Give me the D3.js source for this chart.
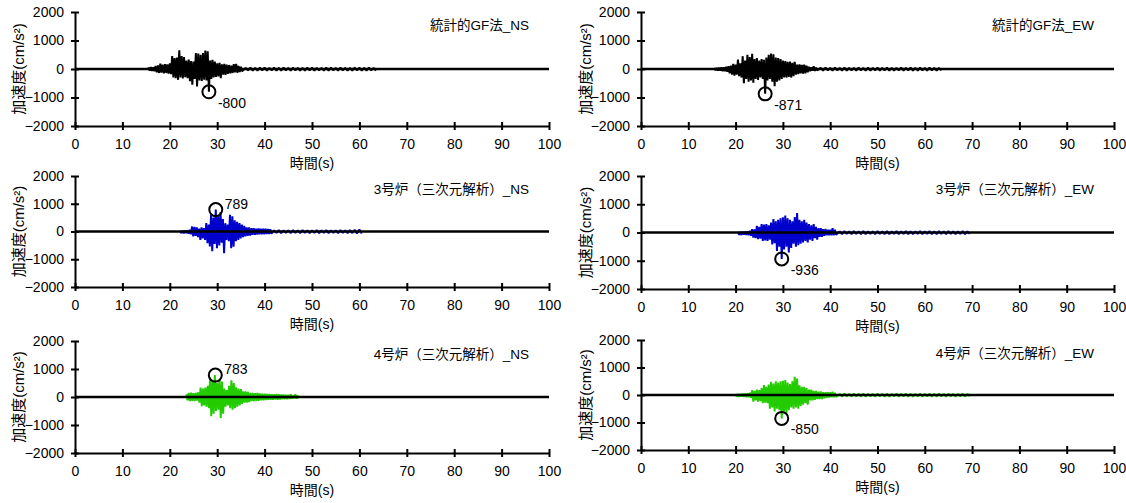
<!DOCTYPE html>
<html><head><meta charset="utf-8">
<script src="https://cdn.jsdelivr.net/npm/d3@7"></script>
<style>
body{margin:0;background:#fff}
svg text{font-family:"Liberation Sans","Noto Sans CJK JP",sans-serif;fill:#000}
</style>
</head><body>
<svg id="c" width="1126" height="503"></svg>
<script>
// ---------- data ----------
const xTicks = [0,10,20,30,40,50,60,70,80,90,100];
const yTicks = [2000,1000,0,-1000,-2000];
const titles = ["統計的GF法_NS","統計的GF法_EW","3号炉（三次元解析）_NS","3号炉（三次元解析）_EW","4号炉（三次元解析）_NS","4号炉（三次元解析）_EW"];
const xLabel = "時間(s)";
const yLabel = "加速度(cm/s²)";
const burstStep = 0.5;
const tailStep = 1;

// 統計的GF法_NS
const gfNS_t0 = 15.5;
const gfNS_pos = [60,70,60,110,130,190,150,170,160,200,450,380,400,660,450,420,300,330,280,260,560,540,500,560,650,620,300,320,260,200,220,160,180,150,140,120,170,180,110,80];
const gfNS_neg = [-60,-70,-80,-120,-140,-130,-150,-140,-160,-180,-300,-320,-380,-300,-330,-290,-320,-430,-550,-350,-610,-400,-420,-380,-400,-800,-350,-300,-280,-260,-320,-200,-210,-170,-150,-140,-120,-130,-110,-80];
const gfNS_tail0 = 36;
const gfNS_tailPos = [40,50,40,45,50,40,45,40,50,40,45,40,40,50,45,40,40,45,50,40,45,40,40,45,50,40,45,40];
const gfNS_tailNeg = [-50,-60,-55,-50,-60,-50,-55,-60,-50,-55,-50,-60,-55,-50,-60,-50,-55,-60,-50,-55,-50,-60,-55,-50,-60,-55,-50,-60];

// 統計的GF法_EW
const gfEW_t0 = 15.5;
const gfEW_pos = [40,40,50,60,60,80,100,120,180,150,330,200,450,300,500,420,530,350,380,300,350,320,400,500,540,520,400,380,350,300,280,250,260,220,250,150,160,140,150,120,80,60,100,50];
const gfEW_neg = [-50,-60,-60,-80,-80,-100,-150,-200,-230,-200,-250,-300,-500,-350,-450,-400,-480,-350,-380,-300,-350,-871,-400,-350,-450,-600,-450,-400,-350,-300,-300,-280,-300,-250,-200,-180,-150,-160,-150,-120,-80,-60,-70,-50];
const gfEW_tail0 = 38;
const gfEW_tailPos = [40,45,40,50,40,45,40,40,50,40,45,40,50,40,45,40,40,50,40,45,40,50,40,45,40,40];
const gfEW_tailNeg = [-55,-50,-60,-50,-55,-60,-50,-55,-50,-60,-55,-50,-60,-50,-55,-60,-50,-55,-50,-60,-55,-50,-60,-50,-55,-50];

// 3号炉_NS
const u3NS_t0 = 22.2;
const u3NS_pos = [20,30,30,40,60,180,170,150,100,150,120,300,250,600,500,789,550,700,450,300,250,600,550,400,350,300,250,200,150,150,120,120,100,110,100,100,100,90,80];
const u3NS_neg = [-60,-70,-60,-80,-100,-180,-160,-200,-300,-250,-300,-420,-540,-714,-450,-600,-500,-400,-780,-300,-350,-600,-550,-350,-300,-250,-200,-180,-160,-150,-120,-120,-110,-100,-100,-100,-90,-90,-80];
const u3NS_tail0 = 42;
const u3NS_tailPos = [40,45,40,40,50,40,45,40,40,50,40,45,40,40,50,40,45,60,70];
const u3NS_tailNeg = [-50,-55,-50,-60,-50,-55,-50,-60,-50,-55,-50,-60,-50,-55,-50,-60,-55,-70,-70];

// 3号炉_EW
const u3EW_t0 = 20.5;
const u3EW_pos = [20,20,30,30,40,60,120,110,240,200,300,280,300,250,350,480,400,450,500,540,600,500,450,400,550,690,450,400,450,350,300,250,300,200,150,150,120,130,100,100,150,100];
const u3EW_neg = [-80,-90,-80,-90,-100,-120,-180,-200,-240,-220,-300,-280,-300,-250,-420,-380,-650,-500,-936,-600,-500,-710,-550,-400,-500,-450,-400,-350,-300,-350,-250,-300,-200,-250,-150,-150,-120,-100,-100,-100,-100,-80];
const u3EW_tail0 = 42;
const u3EW_tailPos = [40,45,40,50,40,45,40,40,50,40,45,40,50,40,45,40,40,50,40,45,40,50,40,45,40,40,45,40];
const u3EW_tailNeg = [-55,-50,-60,-50,-55,-60,-50,-55,-50,-60,-55,-50,-60,-50,-55,-60,-50,-55,-50,-60,-55,-50,-60,-50,-55,-50,-60,-50];

// 4号炉_NS
const u4NS_t0 = 23.5;
const u4NS_pos = [100,150,160,140,150,170,340,300,340,400,700,600,783,500,640,550,300,250,400,600,500,350,300,280,200,200,180,150,150,140,150,130,120,120,110,110,100,100,110,100,90,90,80,80,100,60,100,50];
const u4NS_neg = [-120,-150,-140,-150,-130,-200,-330,-300,-350,-400,-690,-600,-500,-450,-750,-600,-350,-300,-400,-450,-400,-350,-300,-250,-200,-200,-180,-150,-150,-150,-140,-120,-120,-110,-100,-100,-100,-90,-100,-90,-80,-80,-80,-70,-60,-50,-60,-40];
const u4NS_tail0 = 48;
const u4NS_tailPos = [];
const u4NS_tailNeg = [];

// 4号炉_EW
const u4EW_t0 = 20;
const u4EW_pos = [30,40,40,50,50,60,80,180,150,200,180,250,360,300,380,480,420,500,450,500,520,540,450,400,500,660,600,350,300,300,250,200,200,150,150,120,130,100,100,100,100,120,80];
const u4EW_neg = [-60,-70,-60,-70,-80,-80,-100,-240,-200,-240,-220,-300,-280,-300,-500,-450,-600,-500,-550,-850,-600,-660,-550,-450,-500,-450,-500,-400,-350,-300,-350,-200,-200,-180,-150,-150,-150,-120,-100,-90,-80,-80,-70];
const u4EW_tail0 = 42;
const u4EW_tailPos = [40,45,40,50,40,45,40,40,50,40,45,40,50,40,45,40,40,50,40,45,40,50,40,45,40,40,45,40];
const u4EW_tailNeg = [-55,-50,-60,-50,-55,-60,-50,-55,-50,-60,-55,-50,-60,-50,-55,-60,-50,-55,-50,-60,-55,-50,-60,-50,-55,-50,-60,-50];

// peak annotations
const peakTimes  = [28.25, 26.25, 29.7, 29.75, 29.6, 29.75];
const peakValues = [-800, -871, 789, -936, 783, -850];
const peakLabels = ["-800","-871","789","-936","783","-850"];

// ---------- build ----------
const series = [
  {t0:gfNS_t0,pos:gfNS_pos,neg:gfNS_neg,tail0:gfNS_tail0,tp:gfNS_tailPos,tn:gfNS_tailNeg,color:"#000000"},
  {t0:gfEW_t0,pos:gfEW_pos,neg:gfEW_neg,tail0:gfEW_tail0,tp:gfEW_tailPos,tn:gfEW_tailNeg,color:"#000000"},
  {t0:u3NS_t0,pos:u3NS_pos,neg:u3NS_neg,tail0:u3NS_tail0,tp:u3NS_tailPos,tn:u3NS_tailNeg,color:"#0000CC"},
  {t0:u3EW_t0,pos:u3EW_pos,neg:u3EW_neg,tail0:u3EW_tail0,tp:u3EW_tailPos,tn:u3EW_tailNeg,color:"#0000CC"},
  {t0:u4NS_t0,pos:u4NS_pos,neg:u4NS_neg,tail0:u4NS_tail0,tp:u4NS_tailPos,tn:u4NS_tailNeg,color:"#22CC00"},
  {t0:u4EW_t0,pos:u4EW_pos,neg:u4EW_neg,tail0:u4EW_tail0,tp:u4EW_tailPos,tn:u4EW_tailNeg,color:"#22CC00"}
];

const layout = [
  {x0:75, x1:549, top:12, bottom:126, ylx:18},
  {x0:641,x1:1114,top:12, bottom:126, ylx:585},
  {x0:75, x1:549, top:176,bottom:287, ylx:18},
  {x0:641,x1:1114,top:176,bottom:289, ylx:585},
  {x0:75, x1:549, top:341,bottom:453, ylx:18},
  {x0:641,x1:1114,top:340,bottom:450, ylx:585}
];

const svg = d3.select("#c");

series.forEach((s,i)=>{
  const L = layout[i];
  const x = d3.scaleLinear().domain([0,100]).range([L.x0,L.x1]);
  const y = d3.scaleLinear().domain([-2000,2000]).range([L.bottom,L.top]);
  const g = svg.append("g");

  // waveform points
  const pts = [];
  s.pos.forEach((v,k)=>{
    const t = s.t0 + k*burstStep;
    pts.push([t, v]);
    pts.push([t + burstStep/2, s.neg[k]]);
  });
  s.tp.forEach((v,k)=>{
    const t = s.tail0 + k*tailStep;
    pts.push([t, v]);
    pts.push([t + tailStep/2, s.tn[k]]);
  });
  const line = d3.line().x(d=>x(d[0])).y(d=>y(d[1]));
  g.append("path").attr("d", line(pts))
    .attr("fill","none").attr("stroke", s.color).attr("stroke-width",2)
    .attr("stroke-linejoin","bevel");

  // zero line
  g.append("line").attr("x1",x(0)).attr("x2",x(100)).attr("y1",y(0)).attr("y2",y(0))
    .attr("stroke","#000").attr("stroke-width",2.5);

  // y axis
  const ya = g.append("g").attr("transform",`translate(${x(0)},0)`)
    .call(d3.axisLeft(y).tickValues(yTicks).tickSize(0).tickPadding(11).tickFormat(d3.format("d")));
  ya.select(".domain").attr("stroke","#000").attr("stroke-width",2);
  ya.selectAll(".tick").append("line").attr("x1",-4).attr("x2",4).attr("stroke","#000").attr("stroke-width",2);
  ya.selectAll("text").attr("font-size",14).attr("font-family",null);

  // x axis
  const xa = g.append("g").attr("transform",`translate(0,${y(-2000)})`)
    .call(d3.axisBottom(x).tickValues(xTicks).tickSize(0).tickPadding(13).tickFormat(d3.format("d")));
  xa.select(".domain").attr("stroke","#000").attr("stroke-width",2);
  xa.selectAll(".tick").append("line").attr("y1",-4).attr("y2",4).attr("stroke","#000").attr("stroke-width",2);
  xa.selectAll("text").attr("font-size",14).attr("font-family",null);

  // axis titles
  g.append("text").attr("x",(L.x0+L.x1)/2).attr("y",L.bottom+42)
    .attr("text-anchor","middle").attr("font-size",14).text(xLabel);
  g.append("text").attr("transform",`translate(${L.ylx+6},${(L.top+L.bottom)/2}) rotate(-90)`)
    .attr("text-anchor","middle").attr("font-size",15).text(yLabel);

  // panel title
  g.append("text").attr("x",L.x1-20).attr("y",L.top+18)
    .attr("text-anchor","end").attr("font-size",13.5).text(titles[i]);

  // peak marker
  const cx = x(peakTimes[i]), cy = y(peakValues[i]);
  g.append("circle").attr("cx",cx).attr("cy",cy).attr("r",6.5)
    .attr("fill","none").attr("stroke","#000").attr("stroke-width",2);
  const neg = peakValues[i] < 0;
  g.append("text").attr("x",cx+9).attr("y", neg ? cy+16 : cy-1)
    .attr("font-size",14).text(peakLabels[i]);
});
</script>
</body></html>
